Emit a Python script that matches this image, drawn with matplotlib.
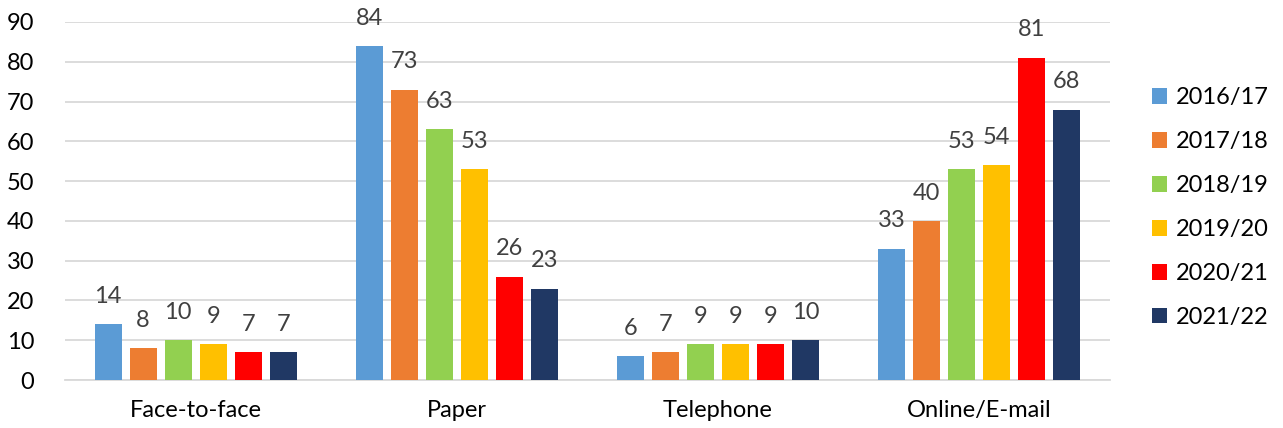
import numpy as np
import matplotlib.pyplot as plt

plt.rcParams['font.family'] = ['Lato', 'DejaVu Sans']

categories = ['Face-to-face', 'Paper', 'Telephone', 'Online/E-mail']
years = ['2016/17', '2017/18', '2018/19', '2019/20', '2020/21', '2021/22']
values = [
    [14, 84, 6, 33],
    [8, 73, 7, 40],
    [10, 63, 9, 53],
    [9, 53, 9, 54],
    [7, 26, 9, 81],
    [7, 23, 10, 68],
]
colors = ['#5b9bd5', '#ed7d31', '#92d050', '#ffc000', '#ff0000', '#203864']

fig = plt.figure(figsize=(12.83, 4.28), dpi=100)
ax = fig.add_axes([0.0507, 0.112, 0.8143, 0.8366])

x = np.arange(len(categories))
pitch = 0.134
width = 0.104
for i, (yr, vals) in enumerate(zip(years, values)):
    pos = x + (i - 2.5) * pitch
    bars = ax.bar(pos, vals, width, color=colors[i], label=yr, zorder=3)
    for b, v in zip(bars, vals):
        ax.text(b.get_x() + b.get_width() / 2, v + 7.0, str(v), ha='center',
                va='center', fontsize=17, color='#404040')

ax.set_xlim(-0.5, 3.5)
ax.set_ylim(0, 90)
ax.set_yticks(range(0, 91, 10))
ax.set_xticks(x)
ax.set_xticklabels(categories)
ax.tick_params(axis='both', length=0, labelsize=17, colors='#000000')
ax.tick_params(axis='y', pad=22)
ax.tick_params(axis='x', pad=14)
ax.grid(axis='y', color='#d9d9d9', linewidth=1.3, zorder=0)
for s in ['top', 'right', 'left']:
    ax.spines[s].set_visible(False)
ax.spines['bottom'].set_color('#d9d9d9')
ax.spines['bottom'].set_linewidth(1.3)

fig.legend(loc='center left', bbox_to_anchor=(0.881, 0.515), frameon=False,
           fontsize=17, handlelength=0.65, handleheight=0.65, handletextpad=0.4,
           labelspacing=0.97)

fig.savefig('out.png', dpi=100)
